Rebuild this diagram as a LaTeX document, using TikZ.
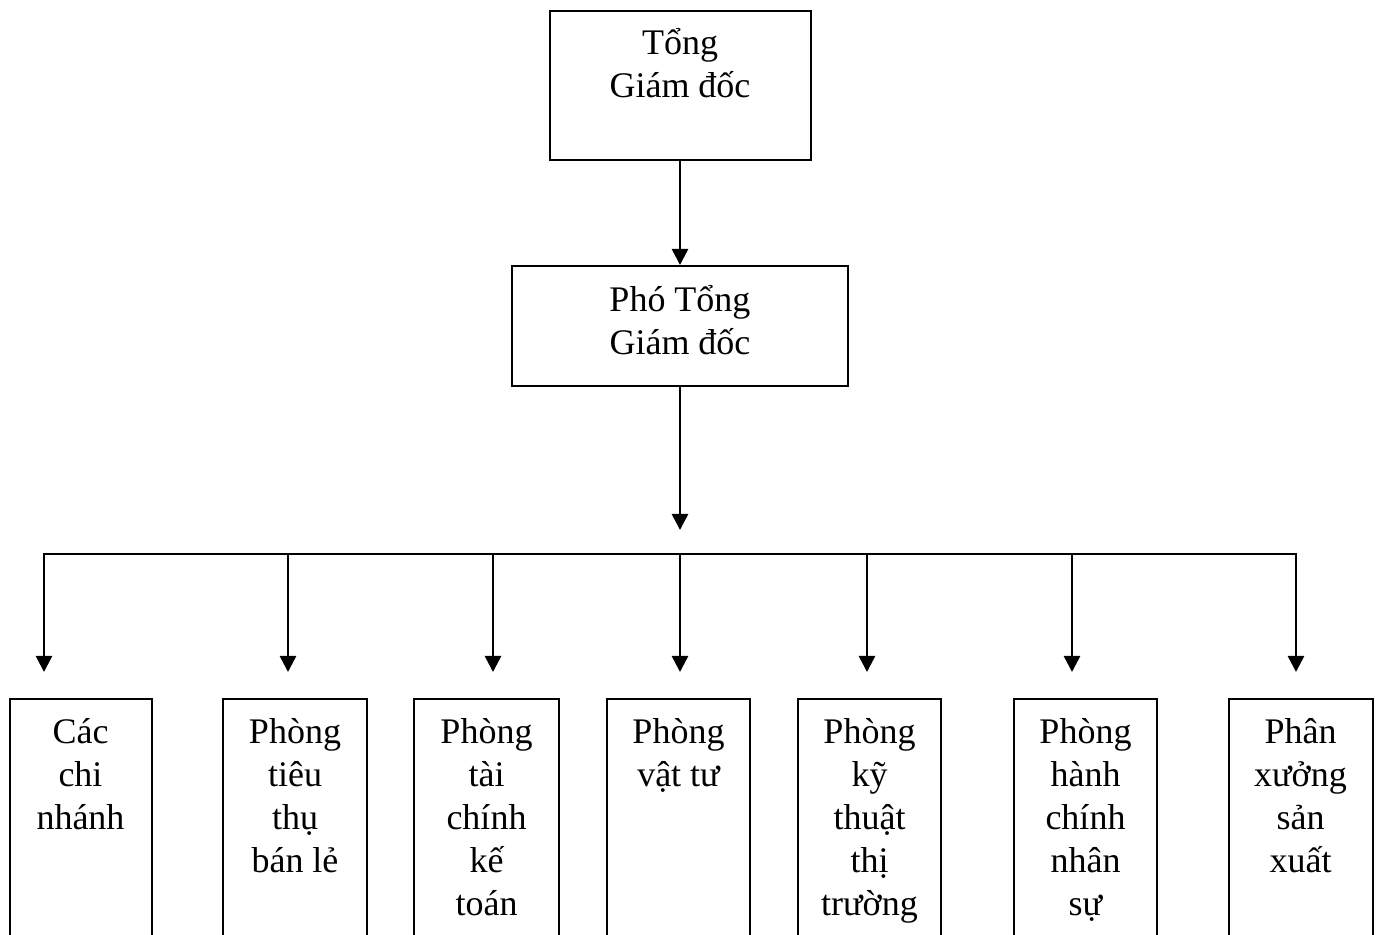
\documentclass[tikz,border=0pt]{standalone}
\usepackage{fontspec}
\setmainfont{Liberation Serif}
\usetikzlibrary{arrows.meta}
% top-aligned, centred multi-line text whose baseline is the first line
\newcommand{\celltext}[2]{\parbox[t]{#1}{\centering\fontsize{18pt}{21.5pt}\selectfont #2}}
\tikzset{
  orgbox/.style={draw, line width=1pt, inner sep=0pt, anchor=base},
  conn/.style={line width=1.3pt},
  arr/.style={conn, -{Triangle[width=8pt,length=8pt]}},
}
\begin{document}
\begin{tikzpicture}[x=0.5pt, y=-0.5pt]
  \useasboundingbox (0,0) rectangle (1378,935);
  \clip (0,0) rectangle (1378,935);

  % upper management
  \node[orgbox, minimum width=130.5pt, text height=22pt, text depth=52.5pt] (ceo)
    at (680,55) {\celltext{120pt}{Tổng\\Giám đốc}};
  \node[orgbox, minimum width=168pt, text height=23pt, text depth=37pt] (vp)
    at (680,312) {\celltext{150pt}{Phó Tổng\\Giám đốc}};

  % departments
  \tikzset{dept/.style={orgbox, text height=22.5pt, text depth=125pt}}
  \node[dept, minimum width=71pt] (d1) at (80.5,744) {\celltext{64pt}{Các\\chi\\nhánh}};
  \node[dept, minimum width=72pt] (d2) at (295,744) {\celltext{64pt}{Phòng\\tiêu\\thụ\\bán lẻ}};
  \node[dept, minimum width=72.5pt] (d3) at (486.5,744) {\celltext{64pt}{Phòng\\tài\\chính\\kế\\toán}};
  \node[dept, minimum width=71.5pt] (d4) at (678.5,744) {\celltext{64pt}{Phòng\\vật tư}};
  \node[dept, minimum width=71.5pt] (d5) at (869.5,744) {\celltext{64pt}{Phòng\\kỹ\\thuật\\thị\\trường}};
  \node[dept, minimum width=71.5pt] (d6) at (1085.5,744) {\celltext{64pt}{Phòng\\hành\\chính\\nhân\\sự}};
  \node[dept, minimum width=72pt] (d7) at (1300.5,744) {\celltext{64pt}{Phân\\xưởng\\sản\\xuất}};

  % connectors
  \draw[arr] (ceo.south) -- (vp.north);
  \coordinate (hub) at (680,530);
  \draw[arr] (vp.south) -- (hub);

  \coordinate (b1) at (44,554);
  \coordinate (b2) at (288,554);
  \coordinate (b3) at (493,554);
  \coordinate (b4) at (680,554);
  \coordinate (b5) at (867,554);
  \coordinate (b6) at (1072,554);
  \coordinate (b7) at (1296,554);
  \draw[conn, line cap=rect] (b1) -- (b7);
  \foreach \i in {1,...,7}
    \draw[arr, shorten >=13pt] (b\i) -- (b\i |- d\i.north);
\end{tikzpicture}
\end{document}
